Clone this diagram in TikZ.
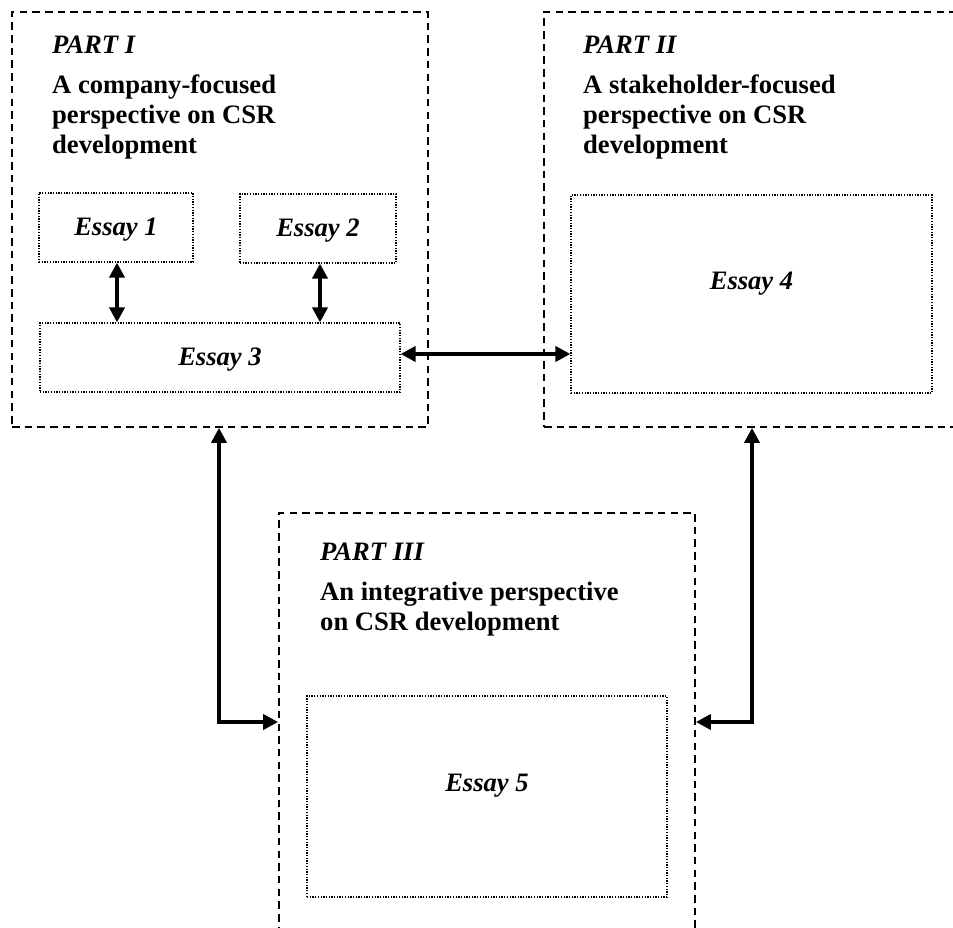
\documentclass[tikz,border=0pt]{standalone}
\usepackage{fontspec}
\setmainfont{Liberation Serif}
\usetikzlibrary{arrows.meta}

\begin{document}
\begin{tikzpicture}[x=1pt, y=-1pt,
  partbox/.style={draw, line width=1.8pt, dash pattern=on 7.5pt off 5.2pt, inner sep=0pt},
  essaybox/.style={draw, line width=1.2pt, dash pattern=on 1.3pt off 1.4pt, inner sep=0pt},
  essaytext/.style={font=\fontsize{26.6}{30.4}\selectfont\bfseries\itshape, inner sep=0pt, anchor=base},
  parthead/.style={font=\fontsize{26.6}{30.4}\selectfont\bfseries\itshape, inner sep=0pt, anchor=base west},
  parttitle/.style={font=\fontsize{26.6}{30.4}\selectfont\bfseries, inner sep=0pt, anchor=base west},
  link/.style={line width=3.8pt,
    {Triangle[length=15pt,width=15pt]}-{Triangle[length=15pt,width=15pt]}}
]
% page frame
\path[use as bounding box, clip] (0,0) rectangle (953,927);
\fill[white] (0,0) rectangle (953,927);

% the three parts (part II runs off the right edge, part III off the bottom)
\node[partbox, minimum width=416pt, minimum height=415pt] (p1) at (220,219.5) {};
\node[partbox, minimum width=418pt, minimum height=415pt] (p2) at (753,219.5) {};
\node[partbox, minimum width=416pt, minimum height=418pt] (p3) at (487,722) {};

% part headings
\node[parthead] (h1) at (52,53) {PART I};
\node[parttitle] (d1) at (52,93) {\begin{tabular}[t]{@{}l@{}}A company-focused\\perspective on CSR\\development\end{tabular}};
\node[parthead] (h2) at (583,53) {PART II};
\node[parttitle] (d2) at (583,93) {\begin{tabular}[t]{@{}l@{}}A stakeholder-focused\\perspective on CSR\\development\end{tabular}};
\node[parthead] (h3) at (320,560) {PART III};
\node[parttitle] (d3) at (320,600) {\begin{tabular}[t]{@{}l@{}}An integrative perspective\\on CSR development\end{tabular}};

% essays
\node[essaybox, minimum width=154pt, minimum height=69pt] (e1) at (116,227.5) {};
\node[essaybox, minimum width=156pt, minimum height=69pt] (e2) at (318,228.5) {};
\node[essaybox, minimum width=360pt, minimum height=69pt] (e3) at (220,357.5) {};
\node[essaybox, minimum width=361pt, minimum height=198pt] (e4) at (751.5,294) {};
\node[essaybox, minimum width=360pt, minimum height=201pt] (e5) at (487,796.5) {};

\node[essaytext] (t1) at ([yshift=-7.5pt]e1.center) {Essay 1};
\node[essaytext] (t2) at ([yshift=-7.5pt]e2.center) {Essay 2};
\node[essaytext] (t3) at ([yshift=-7.5pt]e3.center) {Essay 3};
\node[essaytext] (t4) at ([yshift=5pt]e4.center) {Essay 4};
\node[essaytext] (t5) at ([yshift=5.5pt]e5.center) {Essay 5};

% links
\coordinate (lx) at (219,0);
\coordinate (rx) at (752,0);
\draw[link] ([xshift=1pt]e1.south) -- ([xshift=1pt]e1.south |- e3.north);
\draw[link] ([xshift=2pt]e2.south) -- ([xshift=2pt]e2.south |- e3.north);
\draw[link] ([yshift=3.5pt]e3.east) -- ([yshift=3.5pt]e3.east -| e4.west);
\draw[link] (lx |- p1.south) |- (p3.west);
\draw[link] (rx |- p2.south) |- (p3.east);
\end{tikzpicture}
\end{document}
